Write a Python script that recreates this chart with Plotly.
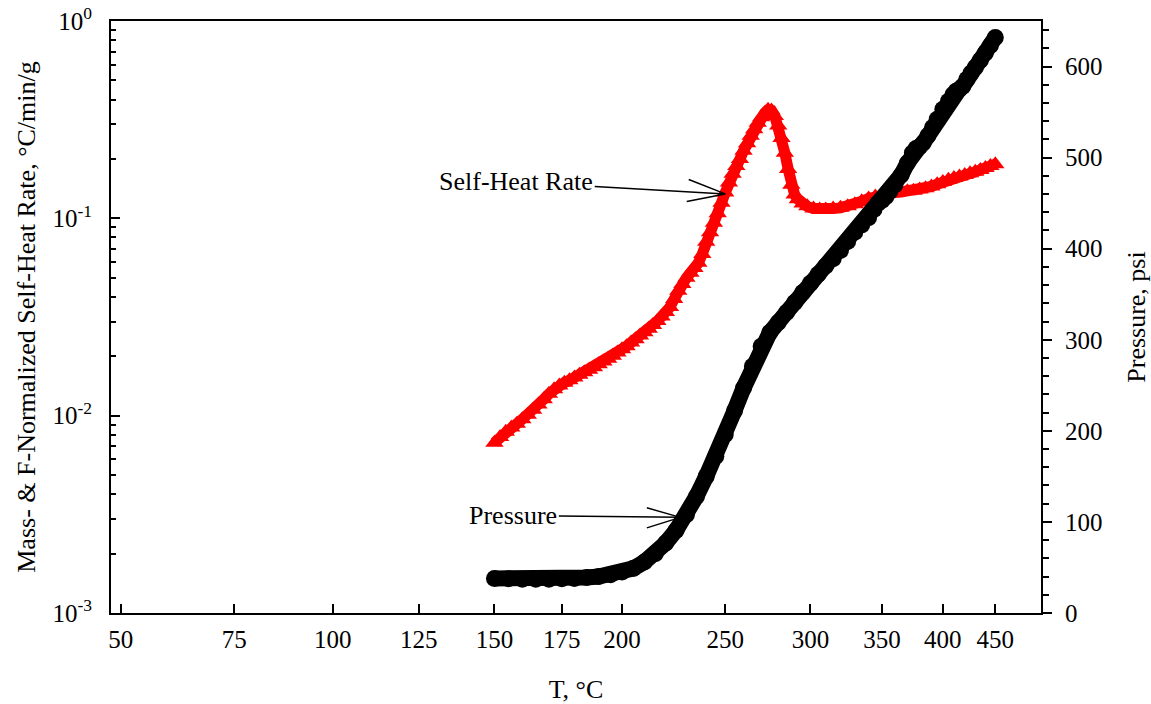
import numpy as np
import plotly.graph_objects as go

# Mass- and phi-normalized self-heat rate (degC/min/g) versus temperature (degC)
shr_temp = [150, 152, 154, 156, 158, 160, 162, 164, 166, 168, 170, 172, 174, 176, 178,
            180, 182, 184, 186, 188, 190, 192, 194, 196, 198, 200, 202, 204, 206, 208,
            210, 212, 214, 216, 218, 220, 222, 224, 226, 228, 230, 232, 234, 236, 238,
            240, 242, 244, 246, 248, 250, 252, 254, 256, 258, 260, 262, 264, 266, 268,
            270, 272, 274, 276, 278, 280, 282, 284, 286, 288, 290, 292, 295, 298, 302,
            306, 310, 315, 320, 325, 330, 335, 340, 345, 350, 355, 360, 365, 370, 375,
            380, 385, 390, 395, 400, 405, 410, 415, 420, 425, 430, 435, 440, 445, 450]
shr_rate = [0.0073, 0.0078, 0.0083, 0.0087, 0.0091, 0.0096, 0.0101, 0.0107, 0.0114, 0.0121,
            0.0129, 0.0136, 0.0142, 0.0147, 0.0151, 0.0156, 0.0161, 0.0166, 0.0171, 0.0176,
            0.0182, 0.0188, 0.0194, 0.0201, 0.0209, 0.0217, 0.0225, 0.0235, 0.0244, 0.0255,
            0.0265, 0.0276, 0.0288, 0.0302, 0.0318, 0.0335, 0.0355, 0.0390, 0.0430, 0.0465,
            0.0500, 0.0530, 0.0560, 0.0595, 0.0660, 0.0760, 0.0850, 0.0950, 0.106, 0.120,
            0.135, 0.152, 0.168, 0.184, 0.200, 0.220, 0.240, 0.262, 0.283, 0.305,
            0.325, 0.342, 0.355, 0.352, 0.330, 0.295, 0.255, 0.215, 0.178, 0.148,
            0.132, 0.125, 0.119, 0.115, 0.112, 0.111, 0.111, 0.112, 0.113, 0.115,
            0.118, 0.122, 0.126, 0.129, 0.132, 0.134, 0.135, 0.136, 0.137, 0.138,
            0.140, 0.142, 0.145, 0.149, 0.153, 0.157, 0.160, 0.163, 0.166, 0.169,
            0.172, 0.176, 0.180, 0.184, 0.188]

# Sample pressure (psi) versus temperature (degC)
p_temp = [150, 155, 160, 165, 170, 175, 180, 185, 190, 195, 200, 205, 210, 215, 220,
          225, 230, 235, 240, 245, 250, 255, 260, 265, 270, 275, 280, 285, 290, 295,
          300, 305, 310, 315, 320, 325, 330, 335, 340, 344, 347, 350, 353, 356, 360,
          365, 370, 374, 377, 380, 383, 387, 391, 395, 400, 405, 409, 412, 415, 418,
          422, 426, 430, 435, 440, 445, 450]
p_psi = [38, 37.5, 37, 37, 37, 37.5, 38, 39, 40, 42, 45, 49, 56, 65, 77,
         91, 108, 128, 150, 172, 196, 222, 247, 271, 293, 308, 319, 330, 341, 352,
         362, 372, 381, 389, 398, 408, 418, 426, 434, 443, 450, 453, 457, 463, 470,
         481, 494, 505, 510, 512, 516, 524, 533, 542, 553, 562, 569, 573, 575, 578,
         586, 593, 599, 607, 615, 623, 632]

# Axis ticks
x_tick_temps = [50, 75, 100, 125, 150, 175, 200, 250, 300, 350, 400, 450]
x_span_temps = [48, 500]
y_decades = [-3, -2, -1, 0]
y2_ticks = [0, 100, 200, 300, 400, 500, 600]
y2_span = [0, 650]

# Callout anchors (temperature, value)
shr_callout = (250, 0.133)
p_callout = (227, 105)

FONT = "Liberation Serif, Times New Roman, serif"
tick_font = dict(family=FONT, size=25, color="black")
text_font = dict(family=FONT, size=26, color="black")


def recip(t):
    """Reciprocal absolute-temperature coordinate used for the x axis."""
    return -1000.0 / (np.asarray(t, dtype=float) + 273.15)


fig = go.Figure()

fig.add_trace(go.Scatter(
    x=recip(shr_temp), y=shr_rate, mode="lines+markers", name="Self-Heat Rate",
    line=dict(color="#ff0000", width=11),
    marker=dict(symbol="triangle-up", size=16, color="#ff0000", line=dict(width=0)),
    yaxis="y", showlegend=False))

fig.add_trace(go.Scatter(
    x=recip(p_temp), y=p_psi, mode="lines+markers", name="Pressure",
    line=dict(color="#000000", width=16),
    marker=dict(symbol="circle", size=17, color="#000000", line=dict(width=0)),
    yaxis="y2", showlegend=False))

minor_vals = [m * 10.0 ** d for d in y_decades[:-1] for m in range(2, 10)]

fig.update_layout(
    width=1151, height=704,
    margin=dict(l=111, r=110, t=21, b=91),
    paper_bgcolor="white", plot_bgcolor="white",
    font=tick_font,
    xaxis=dict(
        range=list(recip(x_span_temps)),
        tickvals=list(recip(x_tick_temps)),
        ticktext=[str(t) for t in x_tick_temps],
        tickfont=tick_font,
        ticks="inside", ticklen=9, tickwidth=2, tickcolor="black",
        showline=True, linecolor="black", linewidth=2, mirror=True,
        showgrid=False, zeroline=False,
        ticklabelstandoff=3,
        title=dict(text="T, °C", standoff=29, font=text_font),
        automargin=False,
    ),
    yaxis=dict(
        type="log", range=[-3, 0],
        tickvals=[10.0 ** d for d in y_decades],
        ticktext=[f"10<sup>{d}</sup>" for d in y_decades],
        tickfont=tick_font,
        ticks="inside", ticklen=9, tickwidth=2, tickcolor="black",
        minor=dict(tickvals=minor_vals, ticks="inside", ticklen=5,
                   tickwidth=1.5, tickcolor="black", showgrid=False),
        showline=True, linecolor="black", linewidth=2,
        showgrid=False, zeroline=False,
        ticklabelstandoff=12,
        title=dict(text="Mass- & F-Normalized Self-Heat Rate, °C/min/g",
                   standoff=9, font=text_font),
        automargin=False,
    ),
    yaxis2=dict(
        overlaying="y", side="right", range=y2_span,
        tickvals=y2_ticks,
        tickfont=tick_font,
        ticks="outside", ticklen=9, tickwidth=2, tickcolor="black",
        minor=dict(dtick=20, ticks="outside", ticklen=6, tickwidth=1.5,
                   tickcolor="black", showgrid=False),
        showline=True, linecolor="black", linewidth=2,
        showgrid=False, zeroline=False,
        ticklabelstandoff=8,
        title=dict(text="Pressure, psi", standoff=27, font=text_font),
        automargin=False,
    ),
)

arrow_style = dict(showarrow=True, arrowhead=0, arrowwidth=1.5, arrowcolor="black",
                   standoff=0, startstandoff=0)

# Self-heat rate callout
sx, sy = float(recip(shr_callout[0])), float(np.log10(shr_callout[1]))
fig.add_annotation(x=sx, y=sy, xref="x", yref="y", text="Self-Heat Rate",
                   ax=-209, ay=-12, font=text_font, **arrow_style)
for dx, dy in [(-38, -15), (-40, 8)]:
    fig.add_annotation(x=sx, y=sy, xref="x", yref="y", text="",
                       ax=dx, ay=dy, **arrow_style)

# Pressure callout
px_, py_ = float(recip(p_callout[0])), p_callout[1]
fig.add_annotation(x=px_, y=py_, xref="x", yref="y2", text="Pressure",
                   ax=-167, ay=-2, font=text_font, **arrow_style)
for dx, dy in [(-35, -10), (-35, 11)]:
    fig.add_annotation(x=px_, y=py_, xref="x", yref="y2", text="",
                       ax=dx, ay=dy, **arrow_style)

fig.write_html("out.html")
